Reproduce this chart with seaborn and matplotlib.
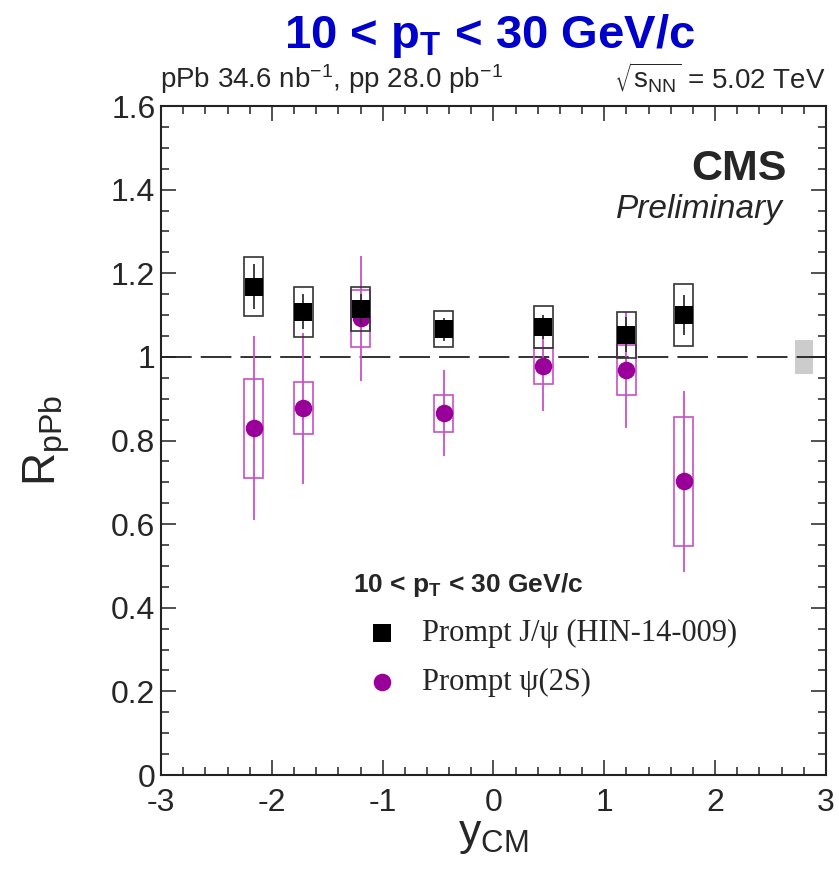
import matplotlib
matplotlib.use("Agg")
import matplotlib.pyplot as plt
from matplotlib.patches import Rectangle
from matplotlib.ticker import MultipleLocator
import seaborn as sns
import pandas as pd

# ── data ───────────────────────────────────────────────────
y_cm = [-2.165, -1.715, -1.2, -0.45, 0.45, 1.2, 1.715]

jpsi_val = [1.168, 1.108, 1.115, 1.066, 1.071, 1.053, 1.100]
jpsi_stat = [0.053, 0.042, 0.036, 0.028, 0.028, 0.042, 0.047]
jpsi_syst = [0.070, 0.060, 0.052, 0.043, 0.050, 0.055, 0.075]

psi2s_val = [0.829, 0.877, 1.092, 0.865, 0.978, 0.969, 0.702]
psi2s_stat = [0.220, 0.180, 0.150, 0.103, 0.107, 0.138, 0.216]
psi2s_syst = [0.119, 0.062, 0.068, 0.045, 0.043, 0.060, 0.155]

global_x = 2.8
global_unc = 0.04

box_hw = 0.083

sns.set_style("ticks")
plt.rcParams["font.family"] = ["Liberation Sans", "DejaVu Sans"]
plt.rcParams["mathtext.default"] = "regular"
plt.rcParams["axes.unicode_minus"] = False

PURPLE = "#990099"
PURPLE_LT = "#c850c8"

fig = plt.figure(figsize=(8.39, 8.71), dpi=100)
ax = fig.add_axes([0.1919, 0.1102, 0.7926, 0.7681])

jp = pd.DataFrame({"y": y_cm, "val": jpsi_val, "stat": jpsi_stat, "syst": jpsi_syst})
ps = pd.DataFrame({"y": y_cm, "val": psi2s_val, "stat": psi2s_stat, "syst": psi2s_syst})

# reference line and global uncertainty
ax.add_patch(Rectangle((global_x - box_hw, 1 - global_unc), 2 * box_hw, 2 * global_unc,
                       facecolor="#cccccc", edgecolor="none", zorder=0.5))
ax.axhline(1.0, color="#222222", lw=1.3, dashes=(17, 5), zorder=1)

# psi(2S) first, J/psi drawn on top
for df, col, lc, z in [(ps, PURPLE, PURPLE_LT, 2), (jp, "black", "#333333", 4)]:
    for _, r in df.iterrows():
        ax.add_patch(Rectangle((r.y - box_hw, r.val - r.syst), 2 * box_hw, 2 * r.syst,
                               facecolor="none", edgecolor=lc, lw=1.2, zorder=z))
    ax.vlines(df.y, df.val - df.stat, df.val + df.stat, color=lc, lw=1.3, zorder=z)

sns.scatterplot(data=ps, x="y", y="val", marker="o", s=160, color=PURPLE,
                linewidth=0, label="Prompt ψ(2S)", zorder=3, ax=ax)
sns.scatterplot(data=jp, x="y", y="val", marker="s", s=150, color="black",
                linewidth=0, label="Prompt J/ψ (HIN-14-009)", zorder=5, ax=ax)

ax.set_xlim(-3, 3)
ax.set_ylim(0, 1.6)
ax.xaxis.set_major_locator(MultipleLocator(1))
ax.xaxis.set_minor_locator(MultipleLocator(0.2))
ax.yaxis.set_major_locator(MultipleLocator(0.2))
ax.yaxis.set_minor_locator(MultipleLocator(0.05))
ax.set_yticks([0, 0.2, 0.4, 0.6, 0.8, 1.0, 1.2, 1.4, 1.6],
              ["0", "0.2", "0.4", "0.6", "0.8", "1", "1.2", "1.4", "1.6"])
ax.tick_params(which="both", direction="in", top=True, right=True, width=1.1,
               labelsize=23, color="#222222")
ax.tick_params(which="major", length=11)
ax.tick_params(which="minor", length=5.5)
ax.tick_params(axis="x", pad=9)
ax.tick_params(axis="y", pad=4)
for sp in ax.spines.values():
    sp.set_linewidth(1.5)
    sp.set_color("#222222")

ax.set_xlabel("y$_{CM}$", fontsize=32, labelpad=-2)
ax.set_ylabel("R$_{pPb}$", fontsize=33, labelpad=28)

# legend
handles, labels = ax.get_legend_handles_labels()
order = [1, 0]
leg = ax.legend([handles[i] for i in order], [labels[i] for i in order],
                title="10 < p$_T$ < 30 GeV/c", frameon=False,
                loc="upper left", bbox_to_anchor=(0.289, 0.305),
                prop={"family": "Liberation Serif", "size": 22},
                title_fontproperties={"family": "Liberation Sans", "weight": "bold", "size": 19},
                alignment="left", handlelength=1.9, handletextpad=0.35,
                labelspacing=0.65, borderpad=0, borderaxespad=0)

# annotations
ax.text(0.941, 0.889, "CMS", transform=ax.transAxes, ha="right", va="baseline",
        fontsize=31, fontweight="bold")
ax.text(0.935, 0.833, "Preliminary", transform=ax.transAxes, ha="right", va="baseline",
        fontsize=24, fontstyle="italic")

fig.text(0.584, 0.945, "10 < p$_T$ < 30 GeV/c", ha="center", va="baseline",
         fontsize=34, fontweight="bold", color="#0000cc")
fig.text(0.1907, 0.899, "pPb 34.6 nb$^{-1}$, pp 28.0 pb$^{-1}$", ha="left",
         va="baseline", fontsize=20)
fig.text(0.9845, 0.899, r"$\sqrt{s_{NN}}$ = 5.02 TeV", ha="right",
         va="baseline", fontsize=20)

fig.savefig("out.png", dpi=100)
